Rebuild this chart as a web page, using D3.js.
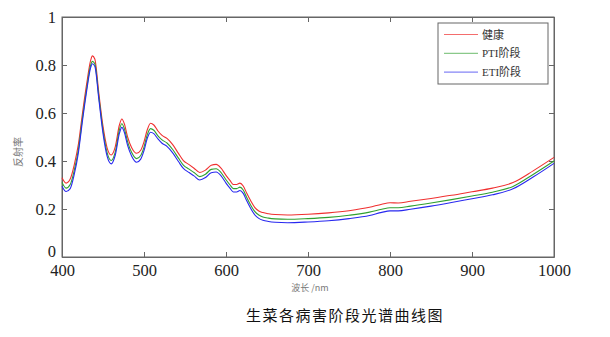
<!DOCTYPE html>
<html><head><meta charset="utf-8">
<script src="https://cdn.jsdelivr.net/npm/d3@7/dist/d3.min.js"></script>
<style>body{margin:0;background:#fff}</style></head>
<body><svg id="c" width="610" height="337"></svg>
<script>
const wavelengths=[400,405,410,415,420,425,430,435,437,440,445,450,455,460,465,470,473,476,480,485,491,496,500,504,508,512,517,522,528,535,542,548,555,561,568,575,582,588,594,600,605,609,613,617,621,625,630,635,640,645,652,660,675,700,725,750,775,790,800,810,825,850,875,900,925,950,975,1000];
const healthy=[.330,.308,.325,.385,.470,.600,.720,.820,.838,.825,.680,.545,.455,.425,.460,.550,.575,.555,.500,.455,.432,.445,.480,.530,.557,.550,.525,.507,.494,.468,.432,.402,.385,.370,.352,.362,.382,.386,.370,.340,.318,.302,.302,.308,.296,.268,.235,.207,.192,.185,.180,.177,.175,.178,.184,.193,.207,.220,.226,.225,.232,.244,.257,.272,.287,.310,.360,.415];
const pti=[.310,.287,.302,.362,.448,.580,.700,.800,.815,.805,.665,.528,.435,.402,.438,.530,.555,.535,.480,.435,.410,.423,.458,.510,.535,.528,.505,.488,.475,.448,.412,.383,.366,.352,.335,.345,.365,.368,.352,.322,.300,.285,.285,.291,.279,.250,.217,.190,.175,.167,.162,.159,.157,.160,.165,.174,.187,.199,.205,.205,.212,.225,.239,.254,.270,.294,.345,.400];
const eti=[.295,.273,.285,.345,.435,.568,.690,.790,.805,.795,.655,.515,.420,.388,.425,.515,.540,.520,.465,.420,.395,.408,.443,.495,.520,.514,.492,.474,.461,.434,.398,.369,.352,.338,.321,.331,.351,.354,.338,.308,.286,.271,.271,.277,.265,.236,.203,.176,.161,.153,.148,.145,.143,.146,.151,.160,.173,.186,.192,.192,.199,.212,.227,.243,.259,.284,.334,.390];
const seriesNames=["健康","PTI阶段","ETI阶段"];
const seriesColors=["#f03030","#30a030","#2828f0"];
const xTicks=[400,500,600,700,800,900,1000];
const xTickLabels=["400","500","600","700","800","900","1000"];
const yTicks=[0,0.2,0.4,0.6,0.8,1];
const yTickLabels=["0","0.2","0.4","0.6","0.8","1"];

const svg=d3.select("#c");
const L=62,R=554,T=17,B=257;
const x=d3.scaleLinear().domain([400,1000]).range([L,R]);
const y=d3.scaleLinear().domain([0,1]).range([B,T]);
const axCol="#666";
const serif="'Liberation Serif', 'Times New Roman', 'DejaVu Serif', serif";

svg.append("rect").attr("x",L).attr("y",T).attr("width",R-L).attr("height",B-T)
  .attr("fill","none").attr("stroke",axCol).attr("stroke-width",1);

const xa=svg.append("g").attr("transform",`translate(0,${B})`)
  .call(d3.axisBottom(x).tickValues(xTicks).tickSizeInner(-5).tickSizeOuter(0).tickPadding(7)
  .tickFormat((d,i)=>xTickLabels[i]));
const xt=svg.append("g").attr("transform",`translate(0,${T})`)
  .call(d3.axisTop(x).tickValues(xTicks).tickSizeInner(-5).tickSizeOuter(0).tickFormat(""));
const ya=svg.append("g").attr("transform",`translate(${L},0)`)
  .call(d3.axisLeft(y).tickValues(yTicks).tickSizeInner(-5).tickSizeOuter(0).tickPadding(6)
  .tickFormat((d,i)=>yTickLabels[i]));
const yr=svg.append("g").attr("transform",`translate(${R},0)`)
  .call(d3.axisRight(y).tickValues(yTicks).tickSizeInner(-5).tickSizeOuter(0).tickFormat(""));
[xa,xt,ya,yr].forEach(g=>{
  g.attr("font-family",null);
  g.select(".domain").attr("stroke",axCol);
  g.selectAll(".tick line").attr("stroke",axCol);
  g.selectAll("text").style("font-family",serif).style("font-size","16.5px").attr("fill","#222");
});
ya.selectAll(".tick text").filter(d=>d===0).attr("dy","-0.05em");

const allSeries=[healthy,pti,eti];
const line=d3.line().x((d,i)=>x(wavelengths[i])).y(d=>y(d)).curve(d3.curveMonotoneX);
allSeries.forEach((s,k)=>{
  svg.append("path").datum(s).attr("d",line).attr("fill","none")
    .attr("stroke",seriesColors[k]).attr("stroke-width",1.1);
});

const lg=svg.append("g");
lg.append("rect").attr("x",438).attr("y",23).attr("width",110).attr("height",61)
  .attr("fill","#fff").attr("stroke",axCol).attr("stroke-width",1);
seriesNames.forEach((n,k)=>{
  const yy=34.5+k*18.8;
  lg.append("line").attr("x1",444).attr("x2",478).attr("y1",yy).attr("y2",yy)
    .attr("stroke",seriesColors[k]).attr("stroke-width",1).attr("opacity",0.7);
  lg.append("text").attr("x",482).attr("y",yy+4).text(n)
    .style("font-family","'Liberation Serif', 'Noto Sans CJK SC', serif").style("font-size","11px").attr("fill","#333");
});

svg.append("text").attr("transform","translate(22,152) rotate(-90)").attr("text-anchor","middle")
  .style("font-family","'Noto Sans CJK SC', sans-serif").style("font-size","10px").attr("fill","#777").text("反射率");
svg.append("text").attr("x",310).attr("y",291).attr("text-anchor","middle")
  .style("font-family","'Noto Sans CJK SC', sans-serif").style("font-size","9px").attr("fill","#777").text("波长 /nm");
svg.append("text").attr("x",345).attr("y",321).attr("text-anchor","middle").attr("letter-spacing",1.5)
  .style("font-family","'Noto Sans CJK SC', sans-serif").style("font-size","15px").attr("fill","#111").text("生菜各病害阶段光谱曲线图");
</script></body></html>
